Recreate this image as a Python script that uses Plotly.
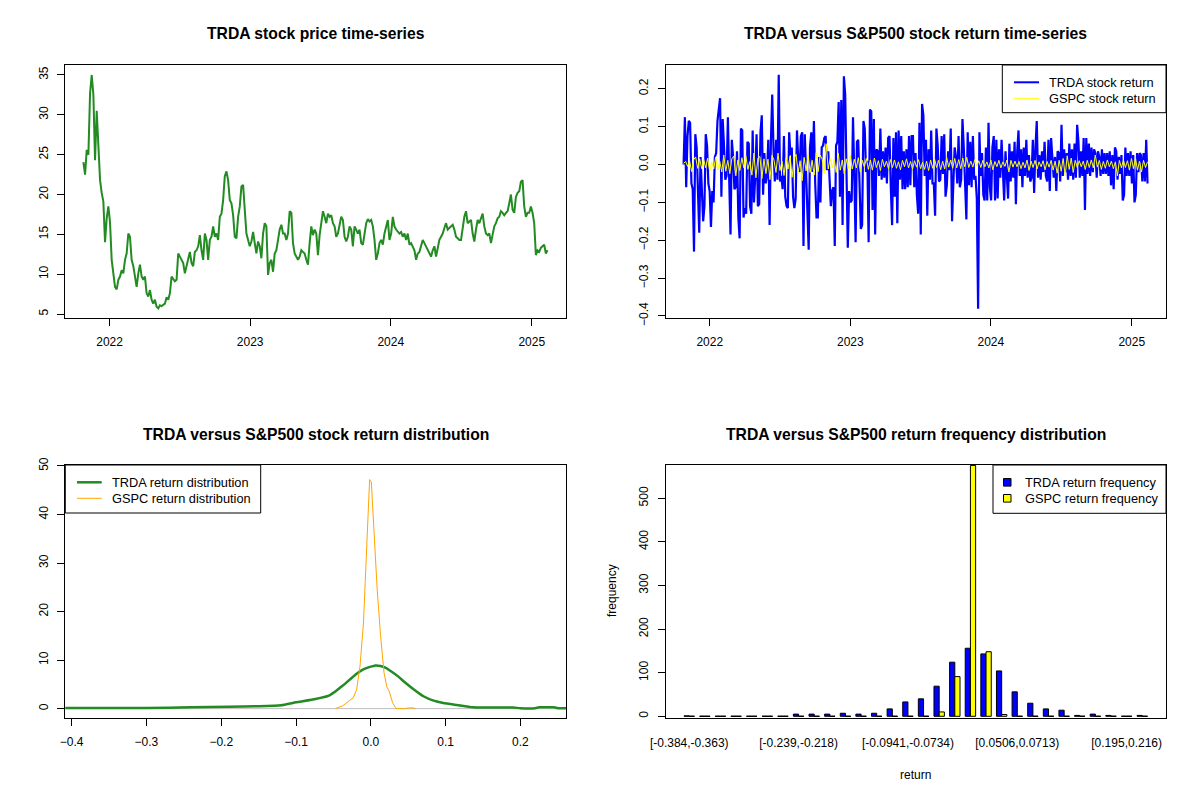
import plotly.graph_objects as go
import pandas as pd

W, H = 1200, 800
FONT = "Liberation Sans, Arial, sans-serif"

# ---------------- data ----------------
series_start = "2021-10-25"
series_end = "2025-02-11"

trda_price = [
    24.05, 22.5, 25.6, 25.0, 32.7, 35.0, 32.5, 24.3, 30.5, 26.9,
    21.8, 20.2, 19.1, 14.0, 17.0, 18.5, 16.5, 11.8, 9.7, 8.4,
    8.1, 9.3, 9.7, 10.5, 10.1, 11.8, 12.6, 15.1, 14.7, 11.8,
    11.0, 9.7, 8.4, 10.1, 11.2, 9.7, 9.3, 9.7, 7.6, 7.2,
    8.0, 6.8, 6.3, 6.8, 5.9, 5.7, 6.1, 6.0, 6.2, 6.3,
    7.1, 6.8, 7.6, 9.7, 9.4, 9.1, 9.3, 12.6, 12.2, 11.8,
    11.4, 10.1, 11.0, 12.2, 12.8, 11.4, 11.0, 12.8, 13.0, 13.5,
    14.9, 13.0, 11.8, 15.1, 14.3, 11.8, 14.3, 14.7, 16.0, 14.7,
    15.1, 14.3, 17.2, 17.6, 19.3, 22.3, 22.9, 21.8, 19.3, 18.9,
    17.4, 14.7, 14.5, 17.2, 18.5, 21.0, 21.2, 18.1, 15.1, 14.3,
    13.5, 14.1, 15.3, 13.9, 12.6, 14.1, 13.5, 12.0, 15.1, 16.4,
    16.0, 9.9, 11.4, 11.8, 10.3, 12.6, 13.0, 14.3, 15.6, 16.2,
    15.1, 15.1, 14.3, 15.1, 17.9, 17.7, 13.9, 12.6, 12.2, 11.8,
    12.2, 13.0, 12.8, 12.6, 11.8, 11.2, 13.9, 16.0, 14.9, 15.6,
    15.1, 12.4, 14.9, 16.2, 17.9, 17.2, 16.4, 17.6, 17.2, 17.4,
    16.4, 16.0, 14.7, 15.1, 16.4, 17.2, 16.8, 14.7, 14.1, 14.7,
    16.0, 15.6, 13.5, 16.0, 15.6, 15.1, 15.6, 13.9, 13.7, 15.1,
    16.4, 16.9, 16.6, 16.8, 16.0, 14.3, 11.8, 12.6, 13.9, 14.3,
    13.7, 15.1, 16.0, 16.8, 14.3, 15.1, 17.2, 16.0, 15.6, 15.3,
    15.1, 15.3, 14.7, 15.1, 14.3, 15.1, 13.7, 13.9, 13.5, 13.0,
    11.8, 12.6, 12.8, 13.5, 14.3, 13.9, 13.5, 13.0, 12.6, 12.2,
    13.0, 13.5, 12.2, 13.5, 14.3, 14.7, 15.1, 15.8, 16.4, 15.6,
    15.8, 16.0, 16.2, 15.6, 14.7, 14.5, 14.3, 14.3, 16.0, 17.2,
    17.9, 16.4, 16.6, 16.8, 15.1, 14.1, 15.6, 16.8, 16.4, 17.0,
    17.6, 16.0, 15.1, 14.9, 15.1, 13.9, 15.1, 16.0, 16.4, 17.0,
    17.2, 17.9, 17.7, 17.4, 17.7, 17.9, 18.9, 20.0, 18.1, 17.7,
    19.7, 20.2, 20.4, 21.6, 21.8, 18.5, 17.2, 17.7, 17.7, 18.5,
    17.7, 16.4, 12.4, 13.0, 12.8, 13.3, 13.5, 13.7, 12.6, 13.0,
]

trda_return = [
    0.0, 0.125, -0.06, 0.075, 0.115, 0.11, -0.05, -0.065, -0.23, 0.08,
    0.045, -0.08, -0.18, 0.02, -0.06, -0.15, -0.11, 0.08, 0.05, -0.05,
    -0.07, -0.165, -0.07, -0.1, 0.02, 0.03, 0.115, 0.14, 0.175, -0.085,
    0.12, 0.05, -0.04, -0.03, 0.125, -0.04, -0.185, 0.065, 0.02, -0.065,
    -0.06, 0.035, -0.14, -0.195, 0.095, 0.09, -0.14, -0.115, -0.13, 0.06,
    0.055, -0.11, -0.13, 0.09, -0.1, -0.03, 0.08, -0.11, -0.105, 0.085,
    0.13, -0.08, 0.03, -0.05, -0.03, 0.065, -0.16, 0.06, 0.185, 0.04,
    -0.045, 0.065, -0.04, 0.237, -0.045, -0.03, -0.065, 0.075, -0.085, -0.11,
    -0.115, 0.085, 0.025, 0.045, -0.085, -0.115, -0.09, 0.09, 0.01, -0.02,
    0.075, 0.085, -0.215, 0.08, -0.03, -0.125, -0.225, 0.045, 0.085, -0.02,
    0.115, -0.05, -0.14, -0.14, 0.02, -0.1, 0.045, 0.05, 0.07, 0.075,
    -0.015, 0.035, -0.045, -0.11, -0.07, -0.06, -0.215, 0.05, 0.06, 0.165,
    -0.085, 0.17, -0.16, 0.233, 0.185, -0.075, -0.22, -0.07, -0.1, -0.095,
    0.125, -0.03, -0.205, 0.06, 0.065, -0.05, -0.17, -0.16, 0.115, 0.095,
    -0.02, 0.01, -0.205, 0.145, 0.14, -0.12, 0.12, -0.185, 0.04, 0.035,
    -0.03, 0.095, -0.04, 0.035, -0.035, 0.045, -0.05, 0.07, 0.075, -0.06,
    -0.16, 0.07, -0.085, 0.085, -0.155, 0.09, -0.04, 0.075, -0.065, 0.035,
    -0.065, 0.04, -0.06, 0.075, -0.055, 0.075,
    0.075, -0.06, 0.03, -0.08, -0.13, 0.11, -0.185, 0.16, 0.13, -0.03,
    0.065, -0.135, 0.04, -0.04, 0.09, -0.05, -0.05, -0.135, 0.095, 0.05,
    -0.045, -0.04, 0.075, -0.025, 0.08, -0.085, -0.055, 0.035, -0.015, 0.095,
    -0.15, -0.05, 0.045, 0.02, -0.05, 0.075, -0.06, -0.04, 0.12, 0.045,
    -0.07, -0.145, 0.085, -0.055, 0.06, -0.06, 0.075, -0.04, -0.03, -0.09,
    -0.381, 0.085, -0.03, 0.03, -0.08, -0.095, 0.045, -0.095, 0.11, -0.06,
    -0.095, 0.045, 0.075, -0.095, 0.065, -0.09, 0.04, -0.035, 0.065, -0.035,
    -0.095, 0.035, -0.02, -0.09, 0.055, -0.045, 0.035, -0.035, 0.06, -0.105,
    0.035, 0.09, -0.03, 0.04, -0.06, 0.045, -0.03, 0.065, -0.035, 0.025,
    -0.045, -0.035, 0.065, -0.075, 0.045, 0.115, -0.035, 0.025, -0.04, 0.035,
    -0.02, 0.06, -0.03, -0.045, 0.065, -0.07, 0.07, 0.02, -0.035, 0.02,
    -0.07, 0.035, 0.03, -0.045, 0.105, -0.03, 0.04, -0.02, 0.03, -0.04,
    0.055, -0.03, 0.04, -0.04, 0.055, -0.035, 0.105, 0.06, -0.035, 0.035,
    -0.03, 0.07, -0.12, 0.07, -0.025, 0.055, -0.03, 0.045, -0.02, 0.04,
    0.03, -0.035, 0.035, 0.02, -0.03, 0.04, -0.025, 0.03, -0.025, 0.03,
    -0.03, 0.035, -0.055, 0.025, -0.065, 0.045, 0.035, -0.04, 0.02, -0.025,
    0.025, -0.095, -0.08, 0.045, -0.03, 0.03, -0.03, 0.035, -0.05, 0.025,
    -0.1, -0.08, 0.03, -0.02, 0.03, 0.025, -0.045, 0.03, -0.045, 0.065,
    -0.05,
]

gspc_return = [
    0.003, 0.008, -0.005, 0.01, -0.019, 0.012, 0.02, -0.01, 0.015, -0.011, 0.014, -0.009, 0.017,
    -0.019, 0.006, -0.012, 0.02, -0.015, 0.009, -0.02, 0.025, -0.018, 0.011,
    -0.024, 0.015, 0.022, -0.03, 0.012, -0.016, 0.018, -0.009, 0.023, -0.013,
    0.008, -0.028, 0.03, -0.035, 0.017, 0.021, -0.037, 0.015, -0.024, 0.014,
    -0.04, 0.024, 0.012, -0.021, 0.03, -0.016, 0.009, -0.029, 0.018, -0.012,
    0.022, -0.034, 0.016, 0.027, -0.022, 0.01, -0.043, 0.019, -0.017, 0.026,
    -0.021, 0.011, -0.028, 0.031, -0.019, 0.025, 0.014, -0.024, 0.055, -0.012,
    0.016, -0.009, 0.013, -0.021, 0.03, -0.015, 0.012, -0.025, 0.015, -0.011,
    0.023, -0.012, 0.014, -0.009, 0.018, -0.02, 0.011, -0.007, 0.016, -0.013,
    0.012, -0.015, 0.017, -0.008, 0.01, -0.016, 0.014, -0.006, 0.009, -0.011,
    0.013, -0.008, 0.012, -0.01, 0.007, -0.014, 0.011, -0.006, 0.015, -0.009,
    0.008, -0.012, 0.01, -0.007, 0.013, -0.011, 0.006, -0.013, 0.009, -0.016,
    0.012, -0.01, 0.014, -0.008, 0.011, -0.014, 0.009, -0.012, 0.019, -0.007,
    0.012, -0.01, 0.016, -0.009, 0.013, -0.011, 0.017, -0.006, 0.019, -0.008,
    0.009, -0.007, 0.013, -0.005, 0.01, -0.008, 0.011, -0.006, 0.007, -0.009,
    0.012, -0.014, 0.008, -0.006, 0.011, -0.009, 0.007, -0.005, 0.012, -0.02,
    0.011, -0.007, 0.009, -0.006, 0.008, -0.011, 0.006, -0.009, 0.012, -0.016,
    0.009, -0.008, 0.011, -0.012, 0.007, -0.006, 0.01, -0.014, 0.008, -0.007,
    0.011, -0.015, 0.009, -0.023, 0.011, -0.018, 0.016, -0.03, 0.023, -0.013,
    0.017, -0.021, 0.011, -0.008, 0.01, -0.006, 0.009, -0.013, 0.011, -0.008,
    0.012, -0.009, 0.025, -0.007, 0.011, -0.013, 0.008, -0.01, 0.012, -0.006,
    0.009, -0.011, 0.007, -0.03, 0.011, -0.009, 0.012, -0.008, 0.01, -0.015,
    0.016, -0.011, 0.018, -0.015, 0.009, -0.02, 0.011, -0.008, 0.007,
]

dens_trda_x = [-0.41, -0.30, -0.24, -0.19, -0.15, -0.12, -0.10, -0.074, -0.056, -0.047,
               -0.037, -0.028, -0.019, -0.010, -0.001, 0.006, 0.013, 0.020, 0.027, 0.036,
               0.045, 0.058, 0.071, 0.084, 0.097, 0.115, 0.133, 0.14, 0.19, 0.20,
               0.22, 0.225, 0.245, 0.25, 0.262]
dens_trda_y = [0.14, 0.15, 0.27, 0.4, 0.5, 0.7, 1.3, 2.0, 2.7, 3.6,
               4.8, 6.0, 7.2, 8.1, 8.6, 8.9, 8.8, 8.4, 7.7, 6.7,
               5.5, 3.9, 2.5, 1.65, 1.17, 0.75, 0.35, 0.25, 0.24, 0.08,
               0.1, 0.27, 0.27, 0.08, 0.07]

dens_gspc_x = [-0.0475, -0.0374, -0.0282, -0.0236, -0.019, -0.0144, -0.0098, -0.0053, -0.0016, 0.0007,
               0.0039, 0.0085, 0.0131, 0.0177, 0.0214, 0.0246, 0.0292, 0.0338, 0.045, 0.05,
               0.057, 0.06]
dens_gspc_y = [0.0, 0.6, 1.7, 2.2, 3.9, 8.8, 17.7, 32.9, 47.2, 46.7,
               36.4, 24.6, 15.0, 7.4, 4.5, 3.6, 1.2, 0.0, 0.0, 0.14,
               0.14, 0.0]

bin_labels = [
    "[-0.384,-0.363)", "[-0.363,-0.342)", "[-0.342,-0.322)", "[-0.322,-0.301)", "[-0.301,-0.28)",
    "[-0.28,-0.26)", "[-0.26,-0.239)", "[-0.239,-0.218)", "[-0.218,-0.197)", "[-0.197,-0.177)",
    "[-0.177,-0.156)", "[-0.156,-0.135)", "[-0.135,-0.115)", "[-0.115,-0.0941)", "[-0.0941,-0.0734)",
    "[-0.0734,-0.0528)", "[-0.0528,-0.0321)", "[-0.0321,-0.0114)", "[-0.0114,0.00928)", "[0.00928,0.03)",
    "[0.03,0.0506)", "[0.0506,0.0713)", "[0.0713,0.092)", "[0.092,0.113)", "[0.113,0.133)",
    "[0.133,0.154)", "[0.154,0.175)", "[0.175,0.195)", "[0.195,0.216)", "[0.216,0.237)",
]
hist_trda = [1, 0, 0, 0, 0, 0, 0, 5, 5, 5,
             7, 5, 7, 17, 33, 40, 69, 124, 156, 143,
             104, 56, 30, 17, 14, 2, 5, 2, 0, 2]
hist_gspc = [0, 0, 0, 0, 0, 0, 0, 0, 0, 0,
             0, 0, 0, 0, 0, 0, 10, 91, 575, 148,
             4, 0, 0, 0, 0, 0, 0, 0, 0, 0]
hist_label_idx = [0, 7, 14, 21, 28]

year_ticks = ["2022-01-01", "2023-01-01", "2024-01-01", "2025-01-01"]
year_labels = ["2022", "2023", "2024", "2025"]

titles = ["TRDA stock price time-series",
          "TRDA versus S&amp;P500 stock return time-series",
          "TRDA versus S&amp;P500 stock return distribution",
          "TRDA versus S&amp;P500 return frequency distribution"]

# ---------------- helpers ----------------
def px(x):
    return x / W

def py(y):
    return 1 - y / H

def dates(n):
    return pd.date_range(series_start, series_end, periods=n)

GREEN = "#228B22"
BLUE = "#0000FF"
YELLOW = "#FFFF00"
ORANGE = "#FFA500"

fig = go.Figure()

# panel 1
fig.add_trace(go.Scatter(x=dates(len(trda_price)), y=trda_price, mode="lines",
                         line=dict(color=GREEN, width=2), xaxis="x", yaxis="y"))
# panel 2
fig.add_trace(go.Scatter(x=dates(len(trda_return)), y=trda_return, mode="lines",
                         line=dict(color=BLUE, width=2.2), xaxis="x2", yaxis="y2"))
fig.add_trace(go.Scatter(x=dates(len(gspc_return)), y=gspc_return, mode="lines",
                         line=dict(color=YELLOW, width=1), xaxis="x2", yaxis="y2"))
# panel 3
fig.add_trace(go.Scatter(x=dens_trda_x, y=dens_trda_y, mode="lines",
                         line=dict(color=GREEN, width=2.5, shape="spline", smoothing=0.4),
                         xaxis="x3", yaxis="y3"))
fig.add_trace(go.Scatter(x=dens_gspc_x, y=dens_gspc_y, mode="lines",
                         line=dict(color=ORANGE, width=1), xaxis="x3", yaxis="y3"))
# panel 4
cats = list(range(len(bin_labels)))
fig.add_trace(go.Bar(x=cats, y=hist_trda, marker=dict(color=BLUE, line=dict(color="black", width=1)),
                     xaxis="x4", yaxis="y4", offsetgroup="a"))
fig.add_trace(go.Bar(x=cats, y=hist_gspc, marker=dict(color=YELLOW, line=dict(color="black", width=1)),
                     xaxis="x4", yaxis="y4", offsetgroup="b"))
# zero-height bars drawn as flat outlines like R does
zx, zy = [], []
for k, (a, b) in enumerate(zip(hist_trda, hist_gspc)):
    if a == 0:
        zx += [k - 1 / 3, k, None]
        zy += [0, 0, None]
    if b == 0:
        zx += [k, k + 1 / 3, None]
        zy += [0, 0, None]
fig.add_trace(go.Scatter(x=zx, y=zy, mode="lines", line=dict(color="black", width=1),
                         xaxis="x4", yaxis="y4"))


def ax(**kw):
    d = dict(showline=True, mirror=True, linecolor="black", linewidth=1,
             ticks="outside", ticklen=7, tickwidth=1, tickcolor="black",
             showgrid=False, zeroline=False, automargin=False,
             tickfont=dict(family=FONT, size=12, color="black"))
    d.update(kw)
    return d


dom_x_left = [px(65.3), px(566)]
dom_x_right = [px(665.5), px(1166)]
dom_y_top = [py(318), py(65)]
dom_y_bot = [py(718), py(465)]

date_range = ["2021-09-08", "2025-03-31"]

fig.update_layout(
    template="none",
    width=W, height=H, margin=dict(l=0, r=0, t=0, b=0, pad=0),
    paper_bgcolor="white", plot_bgcolor="white", showlegend=False,
    barmode="group", bargap=1 / 3, bargroupgap=0,
    font=dict(family=FONT, size=12, color="black"),
    xaxis=ax(domain=dom_x_left, anchor="y", type="date", range=date_range,
             tickvals=year_ticks, ticktext=year_labels, ticklabelstandoff=6),
    yaxis=ax(domain=dom_y_top, anchor="x", range=[4.5, 36.25],
             tickvals=[5, 10, 15, 20, 25, 30, 35], tickangle=-90, ticklabelstandoff=5),
    xaxis2=ax(domain=dom_x_right, anchor="y2", type="date", range=date_range,
              tickvals=year_ticks, ticktext=year_labels, ticklabelstandoff=6),
    yaxis2=ax(domain=dom_y_top, anchor="x2", range=[-0.4053, 0.2627],
              tickvals=[-0.4, -0.3, -0.2, -0.1, 0.0, 0.1, 0.2], tickformat=".1f",
              tickangle=-90, ticklabelstandoff=5),
    xaxis3=ax(domain=dom_x_left, anchor="y3", range=[-0.4085, 0.261],
              tickvals=[-0.4, -0.3, -0.2, -0.1, 0.0, 0.1, 0.2], tickformat=".1f",
              ticklabelstandoff=6),
    yaxis3=ax(domain=dom_y_bot, anchor="x3", range=[-1.93, 50.2],
              tickvals=[0, 10, 20, 30, 40, 50], tickangle=-90, ticklabelstandoff=5),
    xaxis4=ax(domain=dom_x_right, anchor="y4", range=[-1.52, 30.52],
              tickvals=hist_label_idx, ticktext=[bin_labels[i] for i in hist_label_idx],
              ticks="", ticklabelstandoff=14),
    yaxis4=ax(domain=[py(717.7), py(465)], anchor="x4", range=[-3.2, 576],
              tickvals=[0, 100, 200, 300, 400, 500], tickangle=-90, ticklabelstandoff=5),
)

shapes = []
annotations = []

# zero line of density plot
shapes.append(dict(type="line", xref="x3 domain", yref="y3", x0=0, x1=1, y0=0, y1=0,
                   line=dict(color="#BEBEBE", width=1), layer="below"))

# titles
title_pos = [(315.6, 34), (915.8, 34), (315.6, 434), (915.8, 434)]
for t, (tx, ty) in zip(titles, title_pos):
    annotations.append(dict(text=t, x=px(tx), y=py(ty), xref="paper", yref="paper",
                            showarrow=False, xanchor="center", yanchor="middle",
                            font=dict(family=FONT, size=15.7, color="black", weight="bold")))

# panel 4 axis titles
annotations.append(dict(text="return", x=px(915.8), y=py(775), xref="paper", yref="paper",
                        showarrow=False, xanchor="center", yanchor="middle",
                        font=dict(family=FONT, size=12, color="black")))
annotations.append(dict(text="frequency", x=px(612), y=py(591), xref="paper", yref="paper",
                        showarrow=False, xanchor="center", yanchor="middle", textangle=-90,
                        font=dict(family=FONT, size=12, color="black")))

LEG_FONT = 12.8


def legend_box(x0, x1, y0, y1):
    shapes.append(dict(type="rect", xref="paper", yref="paper",
                       x0=px(x0), x1=px(x1), y0=py(y1), y1=py(y0),
                       line=dict(color="black", width=1), fillcolor="white", layer="above"))


def legend_text(text, x, y):
    annotations.append(dict(text=text, x=px(x), y=py(y), xref="paper", yref="paper",
                            showarrow=False, xanchor="left", yanchor="middle",
                            font=dict(family=FONT, size=LEG_FONT, color="black")))


def legend_line(x0, x1, y, color, width):
    shapes.append(dict(type="line", xref="paper", yref="paper", x0=px(x0), x1=px(x1),
                       y0=py(y), y1=py(y), line=dict(color=color, width=width), layer="above"))


def legend_square(x0, y, color):
    shapes.append(dict(type="rect", xref="paper", yref="paper", x0=px(x0), x1=px(x0 + 7.5),
                       y0=py(y + 3.8), y1=py(y - 3.8), fillcolor=color,
                       line=dict(color="black", width=1), layer="above"))


# legend panel 2
legend_box(1002.3, 1166, 65, 112.7)
legend_line(1014, 1039, 82.3, BLUE, 2)
legend_line(1014, 1039, 98.3, YELLOW, 1)
legend_text("TRDA stock return", 1047, 82.3)
legend_text("GSPC stock return", 1047, 98.3)

# legend panel 3
legend_box(65.3, 260.7, 465, 513)
legend_line(77, 101.7, 482.3, GREEN, 2.5)
legend_line(77, 101.7, 498.3, ORANGE, 1)
legend_text("TRDA return distribution", 110, 482.3)
legend_text("GSPC return distribution", 110, 498.3)

# legend panel 4
legend_box(993, 1166, 465, 513.3)
legend_square(1003.5, 482.3, BLUE)
legend_square(1003.5, 498.3, YELLOW)
legend_text("TRDA return frequency", 1023, 482.3)
legend_text("GSPC return frequency", 1023, 498.3)

fig.update_layout(shapes=shapes, annotations=annotations)

fig.write_html("out.html", config={"displayModeBar": False},
               post_script="document.body.style.margin='0px';document.body.style.overflow='hidden';")
